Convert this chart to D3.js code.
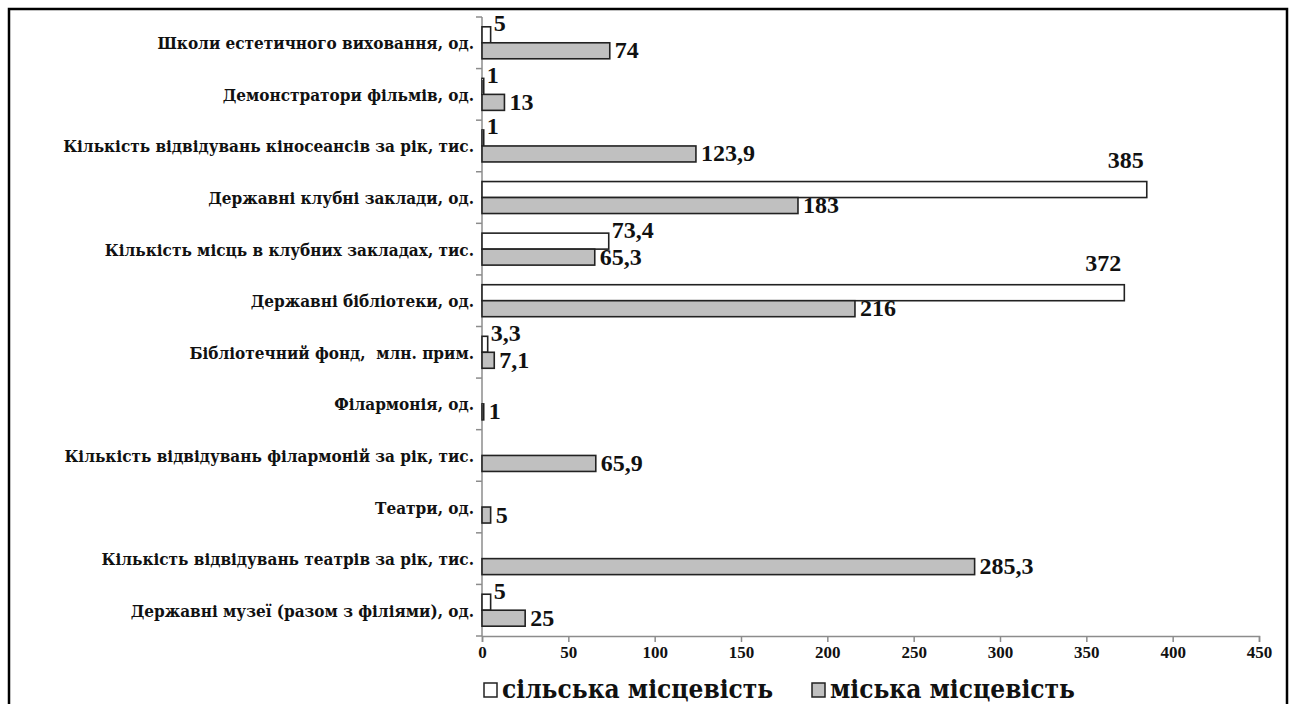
<!DOCTYPE html>
<html>
<head>
<meta charset="utf-8">
<script src="https://cdn.jsdelivr.net/npm/d3@7.9.0/dist/d3.min.js"></script>
<style>
  body { margin: 0; background: #fff; }
  svg { display: block; }
  svg text { font-weight: bold; fill: #111; }
</style>
</head>
<body>
<svg id="chart" width="1292" height="704"></svg>
<script>
// categories, top to bottom as in the picture
const categories = [
  'Школи естетичного виховання, од.',
  'Демонстратори фільмів, од.',
  'Кількість відвідувань кіносеансів за рік, тис.',
  'Державні клубні заклади, од.',
  'Кількість місць в клубних закладах, тис.',
  'Державні бібліотеки, од.',
  'Бібліотечний фонд,  млн. прим.',
  'Філармонія, од.',
  'Кількість відвідувань філармоній за рік, тис.',
  'Театри, од.',
  'Кількість відвідувань театрів за рік, тис.',
  'Державні музеї (разом з філіями), од.'
];
// сільська місцевість (null = no bar)
const rural = [5, 1, 1, 385, 73.4, 372, 3.3, null, null, null, null, 5];
// міська місцевість
const urban = [74, 13, 123.9, 183, 65.3, 216, 7.1, 1, 65.9, 5, 285.3, 25];
const seriesNames = ['сільська місцевість', 'міська місцевість'];
const xTicks = [0, 50, 100, 150, 200, 250, 300, 350, 400, 450];

const serif = '"DejaVu Serif Condensed", "DejaVu Serif", "Liberation Serif", serif';
const numFont = '"Liberation Serif", "Times New Roman", serif';
const svg = d3.select('#chart');

// outer frame (no bottom edge visible in the picture)
svg.append('path')
  .attr('d', 'M9,706 V9 H1287 V706')
  .attr('fill', 'none')
  .attr('stroke', '#000')
  .attr('stroke-width', 2.5);

const x = d3.scaleLinear().domain([0, 450]).range([482, 1259]);
const y = d3.scaleBand().domain(categories).range([17, 636]).paddingInner(0.38).paddingOuter(0.19);
const inner = d3.scaleBand().domain(['rural', 'urban']).range([0, y.bandwidth()]);

const fmt = v => String(v).replace('.', ',');

// left axis line with ticks at band edges
const yEdges = d3.range(categories.length + 1).map(i => 17 + i * y.step());
svg.append('line')
  .attr('x1', x(0)).attr('x2', x(0))
  .attr('y1', 17).attr('y2', 636)
  .attr('stroke', '#8c8c8c').attr('stroke-width', 1.5);
svg.selectAll('.ytick').data(yEdges).join('line')
  .attr('x1', x(0) - 6).attr('x2', x(0))
  .attr('y1', d => d).attr('y2', d => d)
  .attr('stroke', '#8c8c8c').attr('stroke-width', 1.5);

// category labels
svg.selectAll('.cat').data(categories).join('text')
  .attr('x', 474)
  .attr('y', d => y(d) + y.bandwidth() / 2 + 2)
  .attr('text-anchor', 'end')
  .attr('dominant-baseline', 'middle')
  .attr('font-family', serif)
  .attr('font-size', 17)
  .style('white-space', 'pre')
  .text(d => d);

// bottom axis
const xAxis = d3.axisBottom(x).tickValues(xTicks).tickSize(6).tickFormat(d3.format('d'));
const gx = svg.append('g').attr('transform', 'translate(0,636)').call(xAxis);
gx.attr('font-family', numFont);
gx.select('.domain').attr('stroke', '#8c8c8c').attr('stroke-width', 1.5);
gx.selectAll('.tick line').attr('stroke', '#8c8c8c').attr('stroke-width', 1.5);
gx.selectAll('.tick text')
  .attr('y', 10)
  .attr('font-size', 17)
  .attr('font-family', numFont)
  .attr('font-weight', 'bold')
  .attr('fill', '#111');

// bars
const rows = categories.map((c, i) => ({ c, rural: rural[i], urban: urban[i] }));

const styles = {
  rural: { fill: '#ffffff' },
  urban: { fill: '#c0c0c0' }
};

['rural', 'urban'].forEach(key => {
  const data = rows.filter(d => d[key] != null);
  svg.selectAll('.bar-' + key).data(data).join('rect')
    .attr('class', 'bar-' + key)
    .attr('x', x(0))
    .attr('y', d => y(d.c) + inner(key))
    .attr('width', d => x(d[key]) - x(0))
    .attr('height', inner.bandwidth())
    .attr('fill', styles[key].fill)
    .attr('stroke', '#222')
    .attr('stroke-width', 1.6);
});

// value labels
const ruralRows = rows.filter(d => d.rural != null);
svg.selectAll('.lab-rural').data(ruralRows).join('text')
  .attr('font-family', numFont)
  .attr('font-size', 24)
  .attr('dominant-baseline', 'middle')
  .attr('text-anchor', d => d.rural > 300 ? 'end' : 'start')
  .attr('x', d => d.rural > 300 ? x(d.rural) - 3 : x(d.rural) + 3)
  .attr('y', d => y(d.c) + inner('rural') + inner.bandwidth() / 2 - (d.rural > 300 ? 27 : 9))
  .text(d => fmt(d.rural));

const urbanRows = rows.filter(d => d.urban != null);
svg.selectAll('.lab-urban').data(urbanRows).join('text')
  .attr('font-family', numFont)
  .attr('font-size', 24)
  .attr('dominant-baseline', 'middle')
  .attr('x', d => x(d.urban) + 5)
  .attr('y', d => y(d.c) + inner('urban') + inner.bandwidth() / 2 + 2)
  .text(d => fmt(d.urban));

// legend
const legend = svg.append('g').attr('transform', 'translate(484,690)');
const legendX = [0, 328];
seriesNames.forEach((name, i) => {
  const g = legend.append('g').attr('transform', `translate(${legendX[i]},0)`);
  g.append('rect')
    .attr('x', 0).attr('y', -7)
    .attr('width', 13).attr('height', 14)
    .attr('fill', i === 0 ? styles.rural.fill : styles.urban.fill)
    .attr('stroke', '#222').attr('stroke-width', 1.5);
  g.append('text')
    .attr('x', 18).attr('y', 1)
    .attr('dominant-baseline', 'middle')
    .attr('font-family', serif)
    .attr('font-size', 26)
    .text(name);
});
</script>
</body>
</html>
